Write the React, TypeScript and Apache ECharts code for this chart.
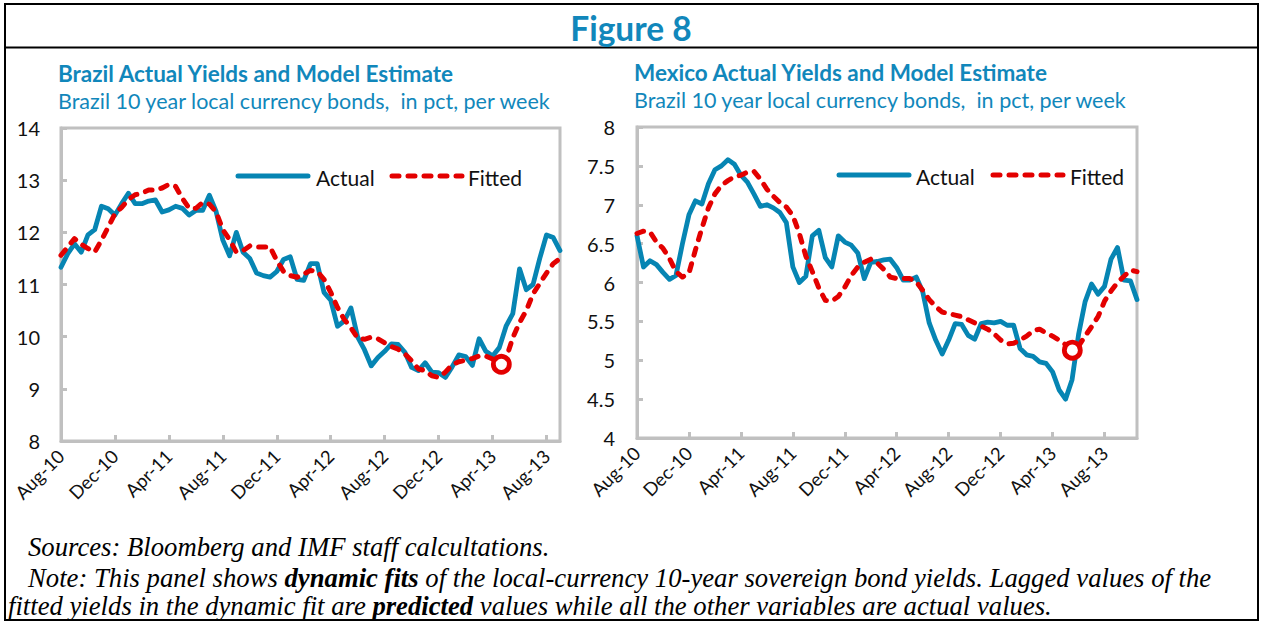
import React, { useEffect, useRef } from 'react';
import * as echarts from 'echarts';

const FONT = 'Lato, "Noto Sans", sans-serif';
const SERIF = '"Liberation Serif", "Times New Roman", serif';
const TEAL = '#0685b3';
const TITLE = '#1187bb';
const RED = '#e30000';
const GRAY = '#c0c0c0';
const DASH = [7, 9];

// observations every half month, starting Aug-2010 (month offset 0)
const STEP = 0.5;
const xTickLabels = ['Aug-10', 'Dec-10', 'Apr-11', 'Aug-11', 'Dec-11', 'Apr-12', 'Aug-12', 'Dec-12', 'Apr-13', 'Aug-13'];
const legendNames = ['Actual', 'Fitted'];

const brazilActual = [
  11.33, 11.59, 11.78, 11.62, 11.95, 12.05, 12.5, 12.45, 12.33, 12.55,
  12.75, 12.55, 12.55, 12.6, 12.62, 12.39, 12.43, 12.5, 12.46, 12.33,
  12.42, 12.42, 12.71, 12.4, 11.85, 11.55, 12.0, 11.62, 11.5, 11.22,
  11.17, 11.14, 11.25, 11.48, 11.53, 11.1, 11.08, 11.4, 11.4, 10.85,
  10.7, 10.2, 10.3, 10.55, 9.99, 9.75, 9.44, 9.6, 9.72, 9.86,
  9.85, 9.7, 9.41, 9.35, 9.5, 9.32, 9.31, 9.22, 9.42, 9.65,
  9.62, 9.45, 9.96, 9.72, 9.63, 9.79, 10.2, 10.44, 11.3, 10.9,
  11.0, 11.5, 11.95, 11.9, 11.65,
];
const brazilFitted = [
  11.56, 11.72, 11.88, 11.77, 11.69, 11.62, 11.85, 12.1, 12.36, 12.48,
  12.63, 12.72, 12.75, 12.81, 12.81, 12.85, 12.92, 12.88, 12.65, 12.46,
  12.46, 12.57, 12.54, 12.39, 12.05, 11.86, 11.62, 11.65, 11.74, 11.72,
  11.72, 11.72, 11.46, 11.25, 11.17, 11.14, 11.2, 11.27, 11.25, 11.1,
  10.85, 10.56, 10.33, 10.17, 9.97, 9.95, 9.99, 9.96, 9.88, 9.81,
  9.76, 9.67, 9.54, 9.38, 9.35, 9.25, 9.22, 9.32, 9.46, 9.52,
  9.55, 9.58, 9.63, 9.63, 9.57, 9.48, 9.58, 9.98, 10.27, 10.5,
  10.82, 11.02, 11.22, 11.4, 11.5,
];
const brazilBreak = [32.65, 9.47];

const mexicoActual = [
  6.6, 6.2, 6.28, 6.23, 6.13, 6.04, 6.09, 6.5, 6.87, 7.05,
  7.01, 7.27, 7.45, 7.5, 7.58, 7.52, 7.38, 7.29, 7.14, 6.98,
  7.0, 6.96, 6.9, 6.77, 6.2, 6.0, 6.08, 6.6, 6.67, 6.32,
  6.2, 6.6, 6.52, 6.48, 6.38, 6.05, 6.26, 6.27, 6.29, 6.3,
  6.19, 6.03, 6.03, 6.07, 5.88, 5.48, 5.26, 5.08, 5.26, 5.47,
  5.46, 5.32, 5.27, 5.47, 5.49, 5.48, 5.5, 5.45, 5.45, 5.15,
  5.07, 5.05, 4.98, 4.96, 4.85, 4.62, 4.5, 4.75, 5.33, 5.75,
  5.98, 5.85, 5.95, 6.3, 6.45, 6.03, 6.02, 5.78,
];
const mexicoFitted = [
  6.63, 6.66, 6.65, 6.52, 6.44, 6.31, 6.14, 6.07, 6.12, 6.42,
  6.7, 6.96, 7.14, 7.25, 7.31, 7.36, 7.38, 7.42, 7.43, 7.33,
  7.2, 7.11, 7.03, 6.97, 6.86, 6.63, 6.34, 6.14, 5.93, 5.77,
  5.76, 5.82, 5.94, 6.09, 6.2, 6.26, 6.3, 6.25, 6.17, 6.07,
  6.05, 6.05, 6.05, 6.01, 5.9, 5.78, 5.69, 5.62, 5.6, 5.58,
  5.56, 5.52, 5.48, 5.44, 5.4, 5.34, 5.26, 5.21, 5.22, 5.26,
  5.31, 5.38, 5.4, 5.35, 5.31, 5.26, 5.2, 5.14, 5.18, 5.31,
  5.43, 5.56, 5.76, 5.89, 6.0, 6.08, 6.16, 6.14,
];
const mexicoBreak = [33.52, 5.13];

const panels = [
  {
    title: 'Brazil Actual Yields and Model Estimate',
    subtitle: 'Brazil 10 year local currency bonds,  in pct, per week',
    actual: brazilActual, fitted: brazilFitted, brk: brazilBreak,
    yMin: 8, yMax: 14, yStep: 1, xMax: 37, yMargin: 21,
    grid: { left: 61, top: 128, width: 499, height: 313 },
    titleX: 58, titleY: 73, subY: 101,
    legendX: [238, 316, 392, 468], legendW: 70, legendY: 176,
  },
  {
    title: 'Mexico Actual Yields and Model Estimate',
    subtitle: 'Brazil 10 year local currency bonds,  in pct, per week',
    actual: mexicoActual, fitted: mexicoFitted, brk: mexicoBreak,
    yMin: 4, yMax: 8, yStep: 0.5, xMax: 38.5, yMargin: 22,
    grid: { left: 637, top: 127, width: 500, height: 311 },
    titleX: 634, titleY: 72, subY: 100,
    legendX: [839, 916, 993, 1070], legendW: 70, legendY: 175,
  },
];

const toPairs = (vals: number[]) => vals.map((v, i) => [i * STEP, v]);

function buildOption() {
  const grids: any[] = [];
  const xAxes: any[] = [];
  const yAxes: any[] = [];
  const series: any[] = [];
  const graphics: any[] = [];

  panels.forEach((p, g) => {
    grids.push({ ...p.grid, show: true, borderColor: GRAY, borderWidth: 3, containLabel: false });
    xAxes.push({
      type: 'value', gridIndex: g, min: 0, max: p.xMax, interval: 4,
      axisLine: { show: true, onZero: false, lineStyle: { color: GRAY, width: 3 } },
      axisTick: { show: true, inside: true, length: 6, lineStyle: { color: GRAY, width: 3 } },
      splitLine: { show: false },
      axisLabel: {
        rotate: 45, margin: 12, fontSize: 18.5, color: '#111', fontFamily: FONT,
        showMaxLabel: false,
        formatter: (v: number) => (Math.abs(v / 4 - Math.round(v / 4)) < 1e-6 ? xTickLabels[Math.round(v / 4)] ?? '' : ''),
      },
    });
    yAxes.push({
      type: 'value', gridIndex: g, min: p.yMin, max: p.yMax, interval: p.yStep,
      axisLine: { show: true, lineStyle: { color: GRAY, width: 3 } },
      axisTick: { show: true, inside: true, length: 6, lineStyle: { color: GRAY, width: 3 } },
      splitLine: { show: false },
      axisLabel: { fontSize: 20, color: '#111', fontFamily: FONT, margin: p.yMargin },
    });
    series.push({
      name: 'Actual', type: 'line', xAxisIndex: g, yAxisIndex: g,
      data: toPairs(p.actual), symbol: 'none', showSymbol: false,
      lineStyle: { color: TEAL, width: 4.8, join: 'round', cap: 'round' }, itemStyle: { color: TEAL }, z: 2,
    });
    series.push({
      name: 'Fitted', type: 'line', xAxisIndex: g, yAxisIndex: g,
      data: toPairs(p.fitted), symbol: 'none', showSymbol: false,
      lineStyle: { color: RED, width: 5, type: DASH, cap: 'round', join: 'round' }, itemStyle: { color: RED }, z: 3,
    });
    series.push({
      name: 'Break', type: 'scatter', xAxisIndex: g, yAxisIndex: g,
      data: [p.brk], symbol: 'circle', symbolSize: 16,
      itemStyle: { color: '#fff', borderColor: RED, borderWidth: 4.8, opacity: 1 }, z: 4,
    });

    // legend (drawn as graphics)
    const [ax, atx, fx, ftx] = p.legendX;
    graphics.push(
      { type: 'line', shape: { x1: ax, y1: p.legendY, x2: ax + p.legendW, y2: p.legendY }, style: { stroke: TEAL, lineWidth: 5, lineCap: 'round' } },
      { type: 'text', x: atx, y: p.legendY + 1, style: { text: legendNames[0], fontFamily: FONT, fontSize: 21, fill: '#111', textVerticalAlign: 'middle' } },
      { type: 'line', shape: { x1: fx, y1: p.legendY, x2: fx + p.legendW, y2: p.legendY }, style: { stroke: RED, lineWidth: 5, lineCap: 'round', lineDash: DASH } },
      { type: 'text', x: ftx, y: p.legendY + 1, style: { text: legendNames[1], fontFamily: FONT, fontSize: 21, fill: '#111', textVerticalAlign: 'middle' } },
    );
    graphics.push({
      type: 'text', x: p.titleX, y: p.titleY,
      style: { text: p.title, fontFamily: FONT, fontWeight: 'bold', fontSize: 22.5, fill: TITLE, textVerticalAlign: 'middle', textAlign: 'left' },
    });
    graphics.push({
      type: 'text', x: p.titleX, y: p.subY,
      style: { text: p.subtitle, fontFamily: FONT, fontSize: 21.5, fill: TITLE, textVerticalAlign: 'middle', textAlign: 'left' },
    });
  });

  const rich = {
    i: { fontFamily: SERIF, fontStyle: 'italic', fontSize: 26.7, fill: '#000', color: '#000' },
    b: { fontFamily: SERIF, fontStyle: 'italic', fontWeight: 'bold', fontSize: 26.7, fill: '#000', color: '#000' },
  };

  graphics.push(
    { type: 'rect', shape: { x: 5, y: 4, width: 1253, height: 616 }, style: { fill: 'none', stroke: '#000', lineWidth: 2 } },
    { type: 'line', shape: { x1: 5, y1: 47.5, x2: 1258, y2: 47.5 }, style: { stroke: '#000', lineWidth: 2 } },
    {
      type: 'text', x: 631, y: 28,
      style: { text: 'Figure 8', fontFamily: FONT, fontWeight: 'bold', fontSize: 33.5, fill: TITLE, textAlign: 'center', textVerticalAlign: 'middle' },
    },
    {
      type: 'text', x: 28, y: 547,
      style: { text: '{i|Sources: Bloomberg and IMF staff calcultations.}', textVerticalAlign: 'middle', rich },
    },
    {
      type: 'text', x: 28, y: 578,
      style: {
        text: '{i|Note: This panel shows }{b|dynamic fits}{i| of the local-currency 10-year sovereign bond yields. Lagged values of the}',
        textVerticalAlign: 'middle', rich,
      },
    },
    {
      type: 'text', x: 8, y: 606,
      style: {
        text: '{i|fitted yields in the dynamic fit are }{b|predicted}{i| values while all the other variables are actual values.}',
        textVerticalAlign: 'middle', rich,
      },
    },
  );

  return {
    animation: false,
    backgroundColor: '#fff',
    grid: grids,
    xAxis: xAxes,
    yAxis: yAxes,
    series,
    graphic: graphics,
  };
}

export default function App() {
  const ref = useRef<HTMLDivElement>(null);
  useEffect(() => {
    if (!ref.current) return;
    const chart = echarts.init(ref.current, null, { renderer: 'svg' });
    chart.setOption(buildOption() as any);
    return () => chart.dispose();
  }, []);
  return (
    <div
      ref={ref}
      style={{ position: 'absolute', left: 0, top: 0, width: 1265, height: 624, background: '#fff' }}
    />
  );
}
